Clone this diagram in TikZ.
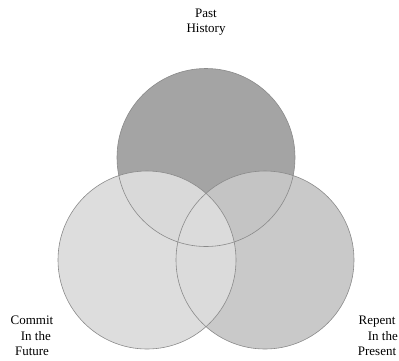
\documentclass[tikz,border=0pt]{standalone}
\usepackage{fontspec}
\setmainfont{Liberation Serif}
\usepackage{tikz}
\usetikzlibrary{positioning}
\pgfdeclarelayer{fill layer}
\pgfdeclarelayer{edgelayer}
\pgfsetlayers{fill layer,edgelayer,main}
\definecolor{pastgray}{HTML}{A4A4A4}
\definecolor{presentgray}{HTML}{C6C6C6}
\definecolor{futuregray}{HTML}{DCDCDC}
\definecolor{rimgray}{HTML}{8A8A8A}
\tikzset{
  disc/.style={circle, inner sep=0pt, minimum size=178pt},
  rim/.style={circle, inner sep=0pt, minimum size=178pt, draw=rimgray, line width=0.6pt},
  caption/.style={align=center, font=\fontsize{13}{15.5}\selectfont}
}

\begin{document}
\begin{tikzpicture}[x=1pt, y=-1pt]
  \useasboundingbox (0, 0) rectangle (399, 360);
  \begin{pgfonlayer}{fill layer}
    \node [disc, fill=pastgray] (past) at (206, 157.5) {};
    \node [disc, fill=presentgray, fill opacity=0.95] (present) at (265, 260) {};
    \node [disc, fill=futuregray, fill opacity=0.96] (future) at (147, 260) {};
  \end{pgfonlayer}
  \begin{pgfonlayer}{edgelayer}
    \node [rim] (0) at (past) {};
    \node [rim] (1) at (present) {};
    \node [rim] (2) at (future) {};
  \end{pgfonlayer}
  \node [caption] (3) at (206, 22) {Past\\History};
  \node [caption] (4) at (32, 336) {Commit\\\hspace*{0.6em}In the\\Future};
  \node [caption] (5) at (377, 336) {Repent\\\hspace*{0.9em}In the\\Present};
\end{tikzpicture}
\end{document}
